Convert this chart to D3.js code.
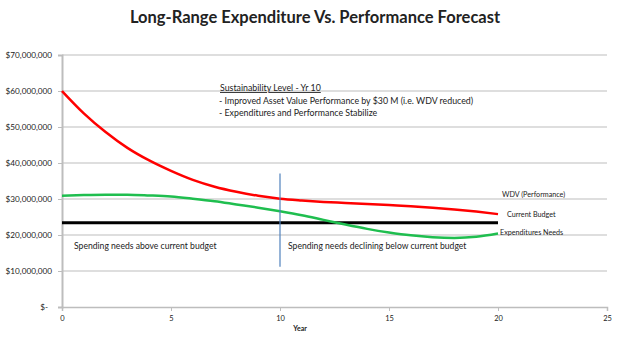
<!DOCTYPE html>
<html>
<head>
<meta charset="utf-8">
<script src="https://d3js.org/d3.v7.min.js"></script>
<style>
  body { margin: 0; background: #fff; }
  svg text { font-family: Lato, "Open Sans", sans-serif; fill: #222; }
</style>
</head>
<body>
<svg width="620" height="338"></svg>
<script>
// values
var years = d3.range(0, 21);
var wdv = [60, 53.8, 48.6, 44.2, 40.7, 37.8, 35.3, 33.4, 32, 30.9, 30.1, 29.6, 29.2, 28.9, 28.6, 28.3, 28, 27.6, 27.1, 26.5, 25.8];
var expNeeds = [30.9, 31.1, 31.2, 31.2, 31, 30.7, 30.1, 29.4, 28.5, 27.6, 26.6, 25.5, 24.2, 22.9, 21.7, 20.7, 19.9, 19.4, 19.2, 19.5, 20.4];
var budget = 23.4;
var yTicks = [0, 10, 20, 30, 40, 50, 60, 70];
var xTicks = [0, 5, 10, 15, 20, 25];
var markerYear = 10, markerRange = [11.2, 37.1];

var svg = d3.select("svg");
var x = d3.scaleLinear().domain([0, 25]).range([62, 607]);
var y = d3.scaleLinear().domain([0, 70]).range([307, 55]);

svg.append("text").attr("x", 315).attr("y", 23).attr("text-anchor", "middle")
  .style("font-size", "16.5px").style("font-weight", "bold").text("Long-Range Expenditure Vs. Performance Forecast");

// gridlines
svg.append("g").selectAll("line").data(yTicks.slice(1)).join("line")
  .attr("x1", x(0)).attr("x2", x(25)).attr("y1", function (d) { return y(d); }).attr("y2", function (d) { return y(d); })
  .attr("stroke", "#bdbdbd").attr("stroke-width", 1);

var yAxis = d3.axisLeft(y).tickValues(yTicks).tickSize(4).tickPadding(6)
  .tickFormat(function (d) { return d === 0 ? "$-" : "$" + d3.format(",")(d * 1e6); });
var gy = svg.append("g").attr("transform", "translate(" + x(0) + ",0)").call(yAxis);
gy.select(".domain").attr("stroke", "#bdbdbd").attr("stroke-width", 2);
gy.selectAll(".tick line").attr("stroke", "#bdbdbd");
gy.selectAll("text").style("font-size", "8.2px").attr("fill", "#333");
gy.selectAll(".tick").filter(function (d) { return d === 0; }).select("text").attr("dx", -4);

var xAxis = d3.axisBottom(x).tickValues(xTicks).tickSize(4).tickPadding(5);
var gx = svg.append("g").attr("transform", "translate(0," + y(0) + ")").call(xAxis);
gx.select(".domain").attr("stroke", "#bdbdbd").attr("stroke-width", 1.5);
gx.selectAll(".tick line").attr("stroke", "#bdbdbd");
gx.selectAll("text").style("font-size", "7.5px").attr("fill", "#333");

svg.append("text").attr("x", 300).attr("y", 331).attr("text-anchor", "middle")
  .style("font-size", "7px").style("font-weight", "bold").text("Year");

var line = d3.line().x(function (d, i) { return x(years[i]); }).y(function (d) { return y(d); })
  .curve(d3.curveMonotoneX);

svg.append("line").attr("x1", x(0)).attr("x2", x(20)).attr("y1", y(budget)).attr("y2", y(budget))
  .attr("stroke", "#000").attr("stroke-width", 3);
svg.append("path").datum(expNeeds).attr("d", line).attr("fill", "none")
  .attr("stroke", "#1fbe4f").attr("stroke-width", 2.5);
svg.append("path").datum(wdv).attr("d", line).attr("fill", "none")
  .attr("stroke", "#ff0000").attr("stroke-width", 2.5);

svg.append("line").attr("x1", x(markerYear)).attr("x2", x(markerYear))
  .attr("y1", y(markerRange[1])).attr("y2", y(markerRange[0]))
  .attr("stroke", "#4f81bd").attr("stroke-width", 1.2);

function label(tx, ty, s, extra) {
  var t = svg.append("text").attr("x", tx).attr("y", ty).style("font-size", "8.8px").text(s);
  if (extra) extra(t);
  return t;
}
label(220, 91, "Sustainability Level  - Yr 10", function (t) { t.style("text-decoration", "underline"); });
label(219, 104, "- Improved Asset Value Performance by $30 M (i.e. WDV reduced)");
label(219, 116, "- Expenditures and Performance Stabilize");
label(502, 197, "WDV (Performance)").style("font-size", "7.2px");
label(507, 217, "Current Budget").style("font-size", "7.2px");
label(500, 235, "Expenditures Needs").style("font-size", "7.2px");
label(74, 249, "Spending  needs above current budget").style("font-size", "8.6px");
label(288, 249, "Spending  needs declining below current budget").style("font-size", "8.6px");
</script>
</body>
</html>
